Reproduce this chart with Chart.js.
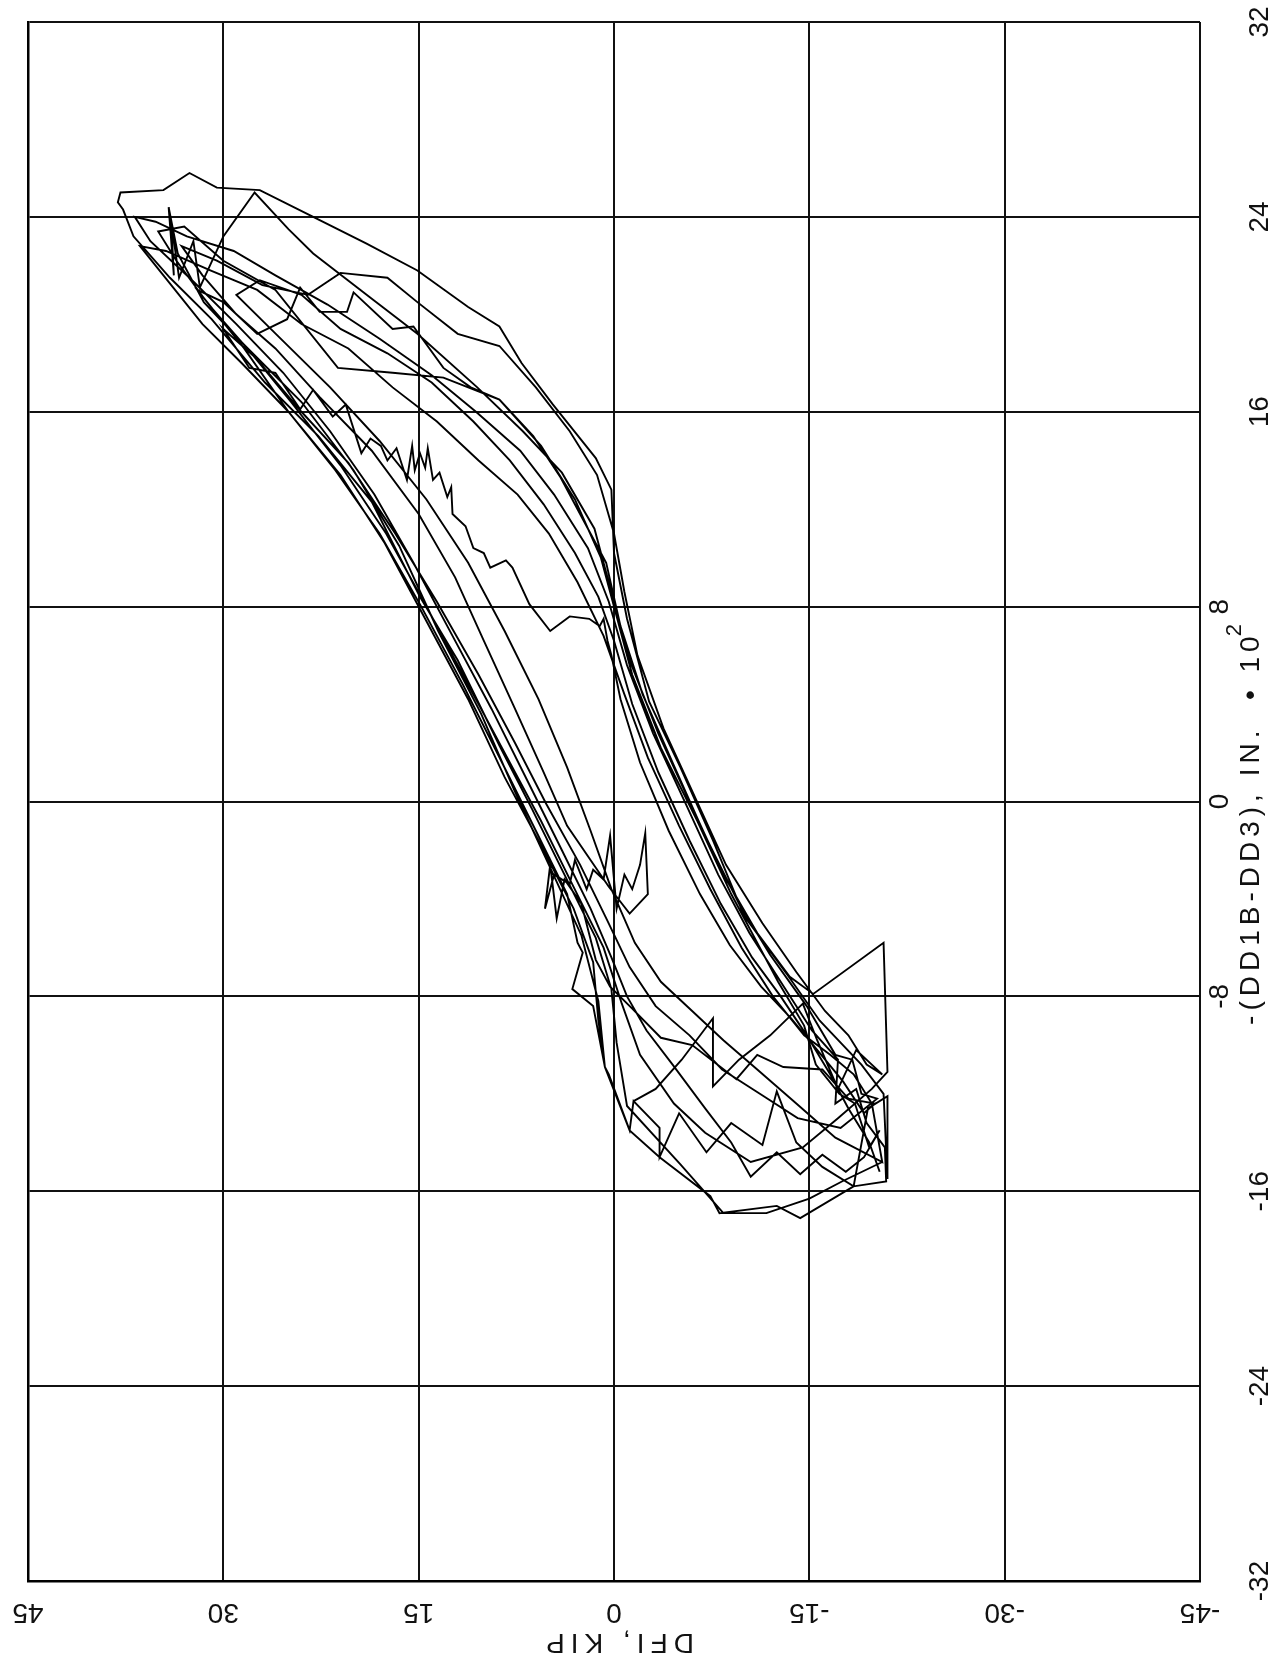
<!DOCTYPE html>
<html>
<head>
<meta charset="utf-8">
<title>DFI vs -(DD1B-DD3)</title>
<script src="https://cdn.jsdelivr.net/npm/chart.js@4.4.1/dist/chart.umd.min.js"></script>
<style>
  html, body { margin: 0; padding: 0; background: #fff; }
  #wrap { width: 1283px; height: 1668px; }
</style>
</head>
<body>
<div id="wrap"><canvas id="hystChart" width="1283" height="1668"></canvas></div>
<script>
// axis ticks (plot is drawn turned on its side: kip runs right-to-left, displacement bottom-to-top)
const kipTicks = [45, 30, 15, 0, -15, -30, -45];
const dispTicks = [32, 24, 16, 8, 0, -8, -16, -24, -32];
const kipTitle = 'DFI, KIP';
const dispTitle = '-(DD1B-DD3), IN.  \u2022 10';
const dispTitleSup = '2';

// load cycles, [kip, displacement*100]
const cycle1 = [[-20.6,-14.8],[-17.5,-15.6],[-15,-16.3],[-11.7,-16.9],[-8.4,-16.9],[-5.1,-14.9],[-1.0,-12.5],[-0.2,-9.9],[0.2,-7.7],[1.4,-5.6],[3.9,-2.9],[6.3,-0.3],[8.8,2.3],[12.0,5.8],[14.9,8.4],[18.6,12.3],[22.7,15.0],[26.8,17.2],[30.9,19.8],[34.1,21.5],[36.9,23.2],[37.7,24.3],[38.1,24.6],[37.9,25.0],[34.6,25.1],[32.6,25.8],[30.5,25.2],[27.2,25.1],[23.1,24.0],[19.0,22.9],[15.1,21.8],[11.2,20.3],[8.8,19.5],[7.1,18.0],[4.7,16.3],[1.4,14.1],[0.2,12.8],[0.0,10.2],[-1.0,7.5],[-2.7,4.1],[-5.1,1.4],[-7.6,-1.6],[-10.0,-4.7],[-13.3,-7.1],[-15.8,-9.0],[-19.0,-10.8],[-20.7,-12.0],[-21.0,-15.5]];
const cycle2 = [[-21,-12.1],[-19.5,-12.6],[-18.4,-15.8],[-14.3,-17.1],[-12.5,-16.6],[-8.1,-16.9],[-7.4,-16.2],[-3.5,-14.6],[-1.2,-13.5],[0.7,-10.9],[1.2,-8.2],[2.5,-5.5],[5.0,-2.6],[7.6,0.4],[10.2,3.6],[13.5,7.0],[16.5,10.5],[20.0,13.6],[24.0,16.4],[28.5,18.8],[31.5,20.5],[33.5,22.5],[34.2,24.4],[33.8,21.6],[34.0,23.8],[33.4,21.5],[32.3,23.0],[31.8,21.1],[30.0,23.2],[27.6,25.0],[25.0,23.5],[23.1,22.5],[18.5,20.6],[15.1,19.2],[10.5,17.0],[7.0,15.2],[4.0,13.5],[1.5,11.2],[0.3,8.8],[-1.2,5.8],[-3.4,2.8],[-5.8,0.0],[-8.4,-3.0],[-11.0,-5.4],[-13.5,-7.2],[-15.3,-7.9],[-20.7,-5.8],[-21.0,-11.1]];
const cycle3 = [[-21,-11.1],[-19.8,-11.8],[-17.2,-13.0],[-14.5,-14.2],[-10.5,-14.8],[-7.0,-13.6],[-4.6,-12.4],[-2.0,-10.4],[-0.6,-8.3],[0.8,-6.0],[3.2,-3.4],[5.6,-0.8],[8.2,1.8],[11.0,4.6],[14.2,7.8],[17.5,11.0],[21.0,13.8],[24.8,16.4],[28.0,18.5],[30.8,20.2],[32.0,21.0],[30.0,20.5],[27.4,19.2],[25.1,19.8],[24.1,21.1],[22.6,20.1],[20.5,20.1],[20.0,20.9],[17.0,19.4],[15.4,19.5],[13.1,17.8],[11.0,17.0],[8.8,16.5],[6.2,15.0],[4.1,13.3],[2.4,11.6],[0.6,9.8],[-0.5,7.2],[-2.2,4.4],[-4.5,1.6],[-7.0,-1.4],[-9.6,-4.2],[-12.0,-6.3],[-14.8,-8.4],[-17.0,-10.4],[-18.3,-10.6],[-19.0,-12.0],[-20.2,-12.2]];
const cycle4 = [[-20.2,-12.2],[-17.4,-13.4],[-14.1,-13.0],[-11.2,-12.0],[-8.3,-11.0],[-5.8,-9.6],[-3.2,-8.4],[-1.2,-6.8],[0.5,-4.9],[2.6,-2.6],[5.2,-0.1],[7.6,2.4],[10.4,5.2],[13.6,8.2],[16.8,11.0],[20.4,13.9],[24.0,16.0],[27.5,18.2],[30.0,19.4],[28.0,17.8],[26.0,17.6],[24.1,16.1],[23.1,16.9],[21.6,15.8],[20.6,16.3],[19.4,14.3],[18.7,14.9],[17.9,14.6],[17.4,14.0],[16.7,14.5],[15.9,13.2],[15.5,14.6],[15.3,13.6],[14.9,14.3],[14.5,13.7],[14.3,14.5],[13.9,13.2],[13.4,13.5],[12.8,12.5],[12.5,12.9],[12.4,11.8],[11.4,11.3],[10.8,10.4],[10.0,10.2],[9.5,9.6],[8.3,9.9],[7.8,9.6],[6.5,8.1],[4.9,7.0],[3.4,7.6],[1.9,7.5],[1.1,7.2],[0.8,7.5],[0.5,6.6],[0.2,6.0],[-0.5,4.2],[-2.0,1.6],[-4.2,-1.2],[-6.6,-3.8],[-8.9,-5.9],[-11.3,-7.6],[-13.6,-8.9],[-15.6,-10.2],[-17.6,-11.5],[-19.2,-12.8],[-20.0,-12.4]];
const cycle5 = [[-20.0,-12.4],[-18.0,-12.2],[-16.0,-11.0],[-13.0,-10.9],[-11.0,-10.4],[-9.4,-11.4],[-6.0,-10.0],[-3.6,-9.7],[-1.4,-8.5],[0.3,-7.6],[1.4,-6.5],[2.5,-4.2],[3.8,-3.2],[4.4,-4.8],[4.9,-2.6],[5.3,-4.4],[4.6,-3.0],[3.4,-3.4],[3.0,-2.4],[2.1,-3.6],[1.6,-2.8],[0.8,-3.2],[0.3,-1.4],[-0.2,-4.4],[-0.8,-3.0],[-1.4,-3.6],[-2.0,-2.6],[-2.4,-1.3],[-2.6,-3.8],[-1.2,-4.6],[0.4,-3.5],[3.6,-1.0],[5.4,1.2],[7.6,3.8],[10.0,6.6],[12.2,9.2],[15.0,11.8],[18.6,14.4],[22.6,16.6],[26.0,18.6],[29.0,20.0],[31.6,21.6],[33.2,22.8],[30.5,22.2],[27.0,21.2],[23.5,20.8],[21.0,21.7],[17.4,21.5],[15.1,20.5],[12.0,19.2],[8.8,18.7],[6.0,17.0],[3.4,15.2],[1.3,13.4],[0.0,11.0],[-0.8,8.6],[-1.8,6.0],[-3.8,3.0],[-6.2,0.2],[-8.6,-2.6],[-11.4,-5.0],[-14.0,-7.0],[-16.2,-8.6],[-18.0,-9.6],[-19.4,-10.8],[-20.6,-11.2]];
const cycle6 = [[-20.6,-11.2],[-18.6,-10.2],[-17.2,-11.8],[-15.6,-9.8],[-14.5,-8.3],[-12.0,-9.6],[-9.6,-10.6],[-7.6,-11.7],[-7.6,-8.9],[-5.2,-10.6],[-3.2,-11.8],[-1.5,-12.3],[-1.2,-13.5],[0.4,-11.2],[0.7,-10.9],[1.2,-9.0],[1.6,-6.6],[3.1,-4.4],[5.6,-1.8],[8.4,1.0],[11.2,4.2],[14.4,7.4],[17.6,10.6],[21.0,13.4],[25.0,16.0],[28.4,18.6],[31.4,20.6],[33.6,22.2],[35.0,23.4],[33.0,23.6],[30.0,22.2],[26.0,21.0],[21.2,17.8],[17.0,17.6],[13.1,17.4],[8.8,16.5],[5.6,14.6],[3.0,12.4],[1.0,10.0],[-0.2,7.6],[-1.4,5.2],[-3.6,2.2],[-6.4,-0.8],[-9.0,-3.8],[-11.2,-6.0],[-12.6,-7.4],[-14.6,-9.2],[-15.5,-10.8],[-17.3,-12.0],[-18.5,-12.4],[-19.6,-14.2],[-20.4,-13.5]];
const cycle7 = [[-20.4,-13.5],[-19.2,-14.6],[-17.8,-15.2],[-16.0,-14.5],[-14.3,-15.3],[-12.5,-14.4],[-10.5,-15.4],[-9.0,-14.0],[-7.0,-12.6],[-4.5,-10.8],[-2.5,-9.4],[-1.0,-8.0],[0.2,-6.4],[1.8,-4.4],[4.0,-2.0],[6.6,0.8],[9.4,3.8],[12.4,6.8],[15.4,9.8],[18.4,12.6],[21.8,15.2],[25.4,17.6],[29.0,19.6],[32.4,21.4],[35.6,23.0],[36.8,24.0],[35.2,23.8],[32.8,23.2],[29.2,22.6],[26.0,21.6],[22.0,20.4],[18.0,19.0],[14.0,17.5],[10.6,16.0],[7.2,14.4],[4.6,12.6],[2.0,10.4],[0.4,8.2],[-1.0,5.6],[-3.0,2.8],[-5.6,-0.2],[-8.0,-3.0],[-10.4,-5.4],[-12.8,-7.4],[-15.2,-9.4],[-17.2,-10.6],[-17.0,-12.4],[-18.6,-11.8],[-19.4,-13.2],[-20.8,-14.2],[-20.9,-15.6]];
const cycle8 = [[-20.9,-15.6],[-18.4,-15.8],[-16.0,-15.0],[-14.0,-14.0],[-12.5,-11.9],[-11.4,-14.1],[-9.0,-13.2],[-7.1,-14.4],[-5.0,-12.8],[-3.5,-14.6],[-3.5,-13.4],[-1.5,-12.3],[-1.2,-13.5],[0.7,-10.9],[1.6,-8.4],[3.2,-7.7],[2.4,-6.2],[2.8,-5.8],[3.6,-3.8],[6.0,-1.2],[8.6,1.6],[11.6,4.8],[14.8,8.0],[18.0,11.0],[21.4,13.6],[25.0,16.0],[28.6,18.0],[31.6,19.6],[34.6,21.6],[36.4,22.8],[34.4,22.6],[31.0,21.8],[27.4,21.0],[24.0,19.6],[20.4,18.6],[17.0,17.0],[13.6,15.6],[10.4,14.0],[7.4,12.6],[5.0,11.0],[2.8,9.0],[0.8,6.8],[-0.8,4.4],[-2.6,1.8],[-5.0,-1.0],[-7.4,-3.6],[-9.8,-6.0],[-12.2,-8.0],[-14.6,-9.6],[-16.6,-10.4],[-18.4,-11.2],[-19.8,-12.4],[-20.6,-14.8]];
const cycle9 = [[-20.6,-14.8],[-17.0,-13.8],[-14.0,-12.4],[-11.0,-11.0],[-8.4,-9.8],[-6.0,-8.6],[-3.6,-7.4],[-1.6,-5.8],[0.2,-3.6],[1.8,-1.2],[3.6,1.4],[5.8,4.2],[8.4,7.0],[11.2,9.8],[14.4,12.4],[18.0,14.8],[21.8,17.0],[25.6,19.0],[29.0,20.8],[27.2,21.4],[24.0,20.8],[21.0,19.4],[17.4,18.4],[14.0,17.2],[10.8,15.6],[8.0,14.0],[5.4,12.2],[3.0,10.2],[1.2,8.4],[0.0,6.6],[-1.4,4.0],[-3.4,1.2],[-5.8,-1.6],[-8.2,-4.2],[-10.6,-6.4],[-12.8,-8.0],[-14.8,-9.6],[-16.6,-11.2],[-18.0,-12.6],[-19.6,-14.0],[-20.4,-15.2]];

const cycles = [cycle1, cycle2, cycle3, cycle4, cycle5, cycle6, cycle7, cycle8, cycle9];
const points = cycles.flat().map(p => ({ x: p[0], y: p[1] }));

// draws the turned tick labels and axis titles off the chart scales
const sideLabels = {
  id: 'sideLabels',
  afterDraw(chart) {
    const ctx = chart.ctx;
    const xs = chart.scales.x;
    const ys = chart.scales.y;
    const area = chart.chartArea;
    const font = '"Liberation Sans", "DejaVu Sans", sans-serif';
    ctx.save();
    ctx.fillStyle = '#111';
    ctx.textAlign = 'center';
    ctx.textBaseline = 'middle';
    ctx.font = '28px ' + font;

    // kip labels under the plot, upside down
    kipTicks.forEach(v => {
      ctx.save();
      ctx.translate(xs.getPixelForValue(v), area.bottom + 31);
      ctx.rotate(Math.PI);
      ctx.fillText(String(v), 0, 0);
      ctx.restore();
    });
    ctx.save();
    ctx.translate(xs.getPixelForValue(0) + 3, area.bottom + 61);
    ctx.rotate(Math.PI);
    if ('letterSpacing' in ctx) ctx.letterSpacing = '6px';
    ctx.fillText(kipTitle, 0, 0);
    ctx.restore();

    // displacement labels right of the plot, reading upward
    dispTicks.forEach(v => {
      const off = Math.abs(v) <= 8 ? 20 : 60;
      ctx.save();
      ctx.translate(area.right + off, ys.getPixelForValue(v));
      ctx.rotate(-Math.PI / 2);
      ctx.fillText(String(v), 0, 0);
      ctx.restore();
    });

    ctx.save();
    ctx.translate(area.right + 51, ys.getPixelForValue(0) + 18);
    ctx.rotate(-Math.PI / 2);
    if ('letterSpacing' in ctx) ctx.letterSpacing = '5px';
    const mainW = ctx.measureText(dispTitle).width;
    ctx.font = '22px ' + font;
    const supW = ctx.measureText(dispTitleSup).width;
    const x0 = -(mainW + supW) / 2;
    ctx.textAlign = 'left';
    ctx.font = '28px ' + font;
    ctx.fillText(dispTitle, x0, 0);
    ctx.font = '22px ' + font;
    ctx.fillText(dispTitleSup, x0 + mainW - 5, -16);
    ctx.restore();

    ctx.restore();
  }
};

const ctx = document.getElementById('hystChart').getContext('2d');
const hystChart = new Chart(ctx, {
  type: 'scatter',
  data: {
    datasets: [{
      data: points,
      showLine: true,
      borderColor: '#000',
      borderWidth: 1.9,
      pointRadius: 0,
      tension: 0,
    }],
  },
  options: {
    responsive: false,
    animation: false,
    layout: { padding: { left: 28, top: 22, right: 83, bottom: 87 } },
    plugins: {
      legend: { display: false },
      tooltip: { enabled: false },
    },
    scales: {
      x: {
        type: 'linear',
        reverse: true,
        min: -45,
        max: 45,
        afterBuildTicks: s => { s.ticks = kipTicks.map(v => ({ value: v })); },
        ticks: { display: false },
        grid: { color: '#111', lineWidth: 2, drawTicks: false },
        border: { color: '#000', width: 2.5 },
      },
      y: {
        type: 'linear',
        min: -32,
        max: 32,
        afterBuildTicks: s => { s.ticks = dispTicks.map(v => ({ value: v })); },
        ticks: { display: false },
        grid: { color: '#111', lineWidth: 2, drawTicks: false },
        border: { color: '#000', width: 2.5 },
      },
    },
  },
  plugins: [sideLabels],
});
</script>
</body>
</html>
